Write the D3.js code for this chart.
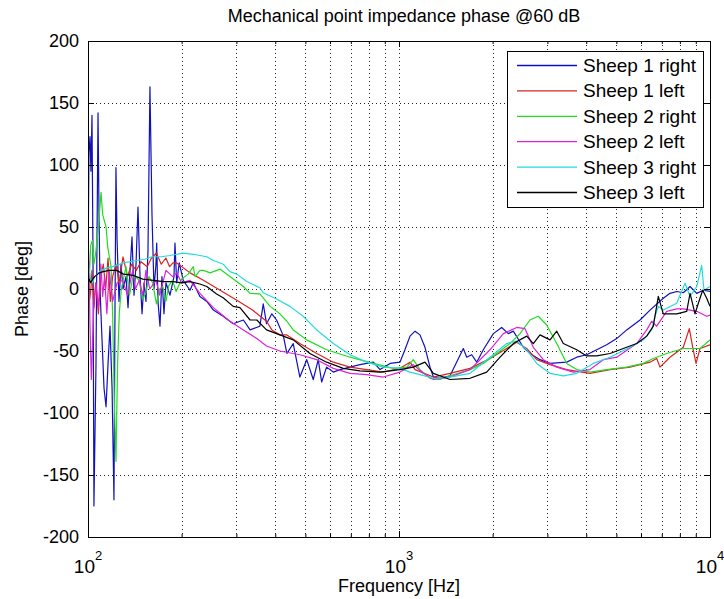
<!DOCTYPE html>
<html><head><meta charset="utf-8">
<script src="https://cdn.jsdelivr.net/npm/d3@7"></script>
<style>
body{margin:0;background:#fff;}
text{font-family:"Liberation Sans",Arial,Helvetica,sans-serif;fill:#000;}
</style></head>
<body><svg id="c" width="724" height="599"></svg>
<script>
const seriesNames = ["Sheep 1 right","Sheep 1 left","Sheep 2 right","Sheep 2 left","Sheep 3 right","Sheep 3 left"];
const seriesColors = ["#1010c0","#d82424","#22dc22","#dc22dc","#22dcdc","#000000"];
const yTicks = [-200,-150,-100,-50,0,50,100,150,200];
const xMajor = [100,1000,10000];
const xMinor = [200,300,400,500,600,700,800,900,2000,3000,4000,5000,6000,7000,8000,9000];

// [frequency Hz, phase deg]
const sheep1Right = [[100,10],[100.7,110],[101.5,123],[102.2,95],[103,140],[103.8,20],[104.5,-175],[106.1,-60],[107.7,142],[108.5,60],[109.3,0],[110.9,-40],[112.6,-80],[114.3,-95],[116,-60],[117.7,-30],[119.5,-80],[121.2,-170],[122.1,-20],[123,98],[124,40],[125.8,-10],[127.7,20],[129.6,0],[132.5,10],[134.5,-15],[136.5,15],[138.5,42],[140.6,-5],[142.7,20],[144.8,66],[147,10],[149.2,-20],[151.4,5],[153.6,-10],[155.9,30],[158.2,163],[160.6,60],[163,0],[165.4,20],[166.3,37],[167.9,-10],[170.4,-30],[172.9,10],[175.5,-20],[178.1,5],[183.5,-5],[189,10],[190.4,37],[192.8,5],[196.5,21],[202.4,7],[212.8,-1],[218,5],[229,-6],[241,-10],[253,-17],[272,-22],[293,-28],[316,-25],[332,-33],[357,-30],[366,-12],[375,-28],[390,-20],[404,-25],[425,-38],[436,-52],[457,-44],[480,-71],[505,-57],[530,-73],[550,-57],[564,-75],[585,-63],[615,-67],[646,-65],[749,-61],[827,-59],[869,-65],[936,-60],[1007,-59],[1045,-49],[1085,-38],[1126,-34],[1168,-37],[1212,-47],[1258,-63],[1290,-71],[1355,-72],[1459,-70],[1610,-48],[1651,-55],[1713,-53],[1778,-59],[1867,-49],[2011,-36],[2139,-31],[2246,-36],[2331,-34],[2510,-47],[2638,-52],[2840,-57],[3059,-60],[3462,-59],[3728,-55],[4013,-53],[4323,-49],[4654,-45],[5012,-40],[5398,-33],[5957,-25],[6414,-17],[7076,-7.5],[7437,-3.5],[7815,-2],[8206,-3],[8626,2],[9063,-3.5],[9516,-1],[10000,-2]];

const sheep1Left = [[100,5],[101,-10],[102.2,0],[103,15],[104.5,-15],[106,5],[108,-20],[110,10],[112,20],[114,0],[116,25],[118,-10],[120,10],[123,20],[126,5],[129.6,26],[134,10],[138,20],[143,15],[148,22],[155,18],[160,25],[166,29],[172,20],[178,25],[183,18],[187.6,21],[193,21],[213,13],[235,7],[266,-1],[301,-9],[338,-17],[375,-26],[390,-33],[414,-37],[436,-37],[480,-44],[544,-52],[615,-59],[696,-63],[787,-65],[890,-67],[1007,-64],[1085,-59],[1126,-65],[1290,-71],[1459,-68],[1692,-64],[1962,-56],[2220,-48],[2390,-43],[2574,-48],[2772,-57],[3059,-61],[3462,-65],[4113,-68],[4770,-65],[5532,-63],[6414,-59],[6739,-56],[6905,-63],[7437,-55],[8206,-47],[8580,-32],[8800,-47],[9017,-60],[9287,-48],[10000,-45]];

const sheep2Right = [[100,30],[101,10],[102,35],[103.3,39],[104.5,20],[106,30],[108,50],[110.1,78],[111.5,60],[114.3,50],[115.7,34],[118.6,18],[120,-20],[121.5,-90],[123,-139],[124.5,-60],[126.1,-19],[128,0],[132.5,18],[136,-5],[140,12],[146,7],[150,-8],[153.6,-3],[157,10],[161.4,5],[166,-12],[170,0],[173.9,2],[178,-10],[182,3],[187,7],[192,-2],[200,8],[210,12],[218,18],[221,10],[229,15],[235,15],[247,13],[266,16],[286,10],[316,2],[332,-3.5],[357,-4],[385,-14],[414,-20],[436,-26],[457,-33],[505,-41],[585,-49],[696,-55],[827,-60],[959,-64],[1059,-63],[1112,-57],[1168,-65],[1258,-72],[1355,-73],[1459,-70],[1692,-65],[1867,-60],[2062,-52],[2275,-44],[2449,-36],[2638,-25],[2805,-22],[2985,-29],[3215,-44],[3462,-60],[3728,-65],[4113,-67],[4654,-65],[5398,-63],[6104,-60],[6572,-56],[7257,-52],[8206,-48],[9287,-48],[10000,-41]];

const sheep2Left = [[100,42],[100.7,20],[101.5,-30],[102.5,-73],[103.5,-40],[104.5,-10],[106,5],[108,-15],[110,20],[111.5,-6],[113,10],[115,-20],[117,15],[120,-10],[124,5],[129.3,7],[134,-5],[139.2,15],[142,0],[146.2,7],[150,-5],[153.6,15],[158,0],[165.4,7],[170,-5],[178.1,15],[187.2,10],[192.8,13],[200,5],[212.8,7],[229,-3.5],[253,-15],[286,-26],[316,-33],[349,-40],[375,-46],[414,-50],[480,-53],[544,-57],[615,-64],[696,-68],[787,-69],[890,-71],[1007,-67],[1112,-61],[1197,-68],[1290,-73],[1459,-71],[1692,-65],[1962,-49],[2165,-36],[2390,-31],[2542,-32],[2703,-47],[2911,-57],[3215,-63],[3635,-67],[4113,-65],[4539,-57],[5012,-55],[5813,-44],[6260,-33],[6494,-26],[6739,-30],[7257,-18],[7815,-16],[8206,-16],[9063,-18],[9759,-22],[10000,-21]];

const sheep3Right = [[100,25],[101,15],[102,8],[103.3,5],[105,10],[107,12],[110,15],[115,17],[120,18],[130,21],[142.7,23],[152,24],[161,26],[172,26],[183.5,27],[202,29],[218,28],[229,27],[241,26],[253,23],[266,21],[272,20],[286,14],[301,12],[324,6],[357,1],[366,-3],[404,-8],[446,-14],[492,-22],[544,-33],[615,-44],[696,-53],[787,-59],[890,-63],[1007,-64],[1085,-67],[1168,-69],[1290,-72],[1459,-71],[1692,-68],[1962,-55],[2220,-44],[2390,-42],[2574,-49],[2772,-60],[3059,-68],[3376,-70],[3728,-68],[4216,-60],[4770,-55],[5532,-47],[6104,-41],[6494,-33],[6655,-22],[6820,-14],[7076,-17],[7815,-11.5],[8311,4.6],[8626,-6],[9063,2],[9403,19],[9565,-1],[10000,2]];

const sheep3Left = [[100,-15],[100.3,5],[101,8],[102,5],[103,7],[105,10],[108.7,13],[112,14],[117,15],[123.6,15],[130,12],[139.8,11],[150,8],[162.2,7],[175,6],[188,6],[200,5],[212.8,6],[229,4],[241,2],[259,-4],[272,-7],[293,-14],[308,-15],[332,-25],[349,-25],[375,-33],[414,-37],[457,-41],[517,-52],[585,-59],[662,-64],[749,-66],[869,-67],[1007,-65],[1112,-63],[1212,-59],[1290,-68],[1459,-73],[1692,-72],[1914,-67],[2113,-55],[2331,-44],[2574,-38],[2703,-44],[2840,-37],[3059,-41],[3215,-34],[3376,-44],[3728,-49],[4013,-54],[4323,-54],[4770,-52],[5263,-48],[5813,-44],[6260,-38],[6572,-30],[6820,-6],[7076,-20],[7815,-20],[8417,-18],[8626,-3.5],[8951,-20],[9172,-11.5],[9473,-1],[9759,-7.5],[10000,-14]];

const allSeries = [sheep1Right,sheep1Left,sheep2Right,sheep2Left,sheep3Right,sheep3Left];

const L=88,R=710,T=41,B=537;
const svg=d3.select("#c");
const x=d3.scaleLog().domain([100,10000]).range([L,R]);
const y=d3.scaleLinear().domain([-200,200]).range([B,T]);

// grid
const grid=svg.append("g").attr("stroke","#222").attr("stroke-width",1).attr("stroke-dasharray","1,3").attr("shape-rendering","crispEdges");
grid.selectAll("line.v").data(xMinor.concat([1000])).join("line")
  .attr("x1",d=>Math.round(x(d))+0.5).attr("x2",d=>Math.round(x(d))+0.5).attr("y1",T).attr("y2",B);
grid.selectAll("line.h").data(yTicks.filter(d=>d>-200&&d<200)).join("line")
  .attr("x1",L).attr("x2",R).attr("y1",d=>Math.round(y(d))+0.5).attr("y2",d=>Math.round(y(d))+0.5);

// lines
svg.append("clipPath").attr("id","pc").append("rect").attr("x",L).attr("y",T).attr("width",R-L).attr("height",B-T);
const line=d3.line().x(d=>x(d[0])).y(d=>y(d[1]));
svg.append("g").attr("clip-path","url(#pc)").selectAll("path").data(allSeries).join("path")
  .attr("d",line).attr("fill","none").attr("stroke",(d,i)=>seriesColors[i]).attr("stroke-width",1.2).attr("stroke-linejoin","round");

// axes
const yl=svg.append("g").attr("transform",`translate(${L},0)`).call(d3.axisLeft(y).tickValues(yTicks).tickSize(-6).tickPadding(9).tickFormat(d=>d));
svg.append("g").attr("transform",`translate(${R},0)`).call(d3.axisRight(y).tickValues(yTicks).tickSize(-6).tickFormat(""));
svg.append("g").attr("transform",`translate(0,${B})`).call(d3.axisBottom(x).tickValues(xMajor).tickSize(-6).tickFormat(""));
svg.append("g").attr("transform",`translate(0,${B})`).call(d3.axisBottom(x).tickValues(xMinor).tickSize(-3).tickFormat(""));
svg.append("g").attr("transform",`translate(0,${T})`).call(d3.axisTop(x).tickValues(xMajor).tickSize(-6).tickFormat(""));
svg.append("g").attr("transform",`translate(0,${T})`).call(d3.axisTop(x).tickValues(xMinor).tickSize(-3).tickFormat(""));
svg.selectAll(".domain").remove();
svg.selectAll(".tick line").attr("stroke","#000");
yl.selectAll("text").attr("font-size",18).style("font-family","'Liberation Sans',Arial,sans-serif");
svg.append("rect").attr("x",L+0.5).attr("y",T+0.5).attr("width",R-L).attr("height",B-T).attr("fill","none").attr("stroke","#000").attr("stroke-width",1);

// x tick labels 10^n
const xl=svg.append("g").selectAll("text").data(xMajor).join("text")
  .attr("x",d=>x(d)).attr("y",573).attr("text-anchor","middle").attr("font-size",19);
xl.append("tspan").text("10");
xl.append("tspan").attr("dy",-13).attr("font-size",13).text(d=>Math.round(Math.log10(d)));

// titles
svg.append("text").attr("x",(L+R)/2+5).attr("y",22).attr("text-anchor","middle").attr("font-size",18).text("Mechanical point impedance phase @60 dB");
svg.append("text").attr("x",(L+R)/2).attr("y",592).attr("text-anchor","middle").attr("font-size",18).text("Frequency [Hz]");
svg.append("text").attr("transform",`translate(28,${(T+B)/2}) rotate(-90)`).attr("text-anchor","middle").attr("font-size",18).text("Phase [deg]");

// legend
const lg=svg.append("g");
lg.append("rect").attr("x",507.5).attr("y",51.5).attr("width",196).attr("height",156).attr("fill","#fff").attr("stroke","#000");
const rows=lg.selectAll("g.r").data(seriesNames).join("g").attr("transform",(d,i)=>`translate(0,${65+i*25.4})`);
rows.append("line").attr("x1",517).attr("x2",577).attr("y1",0.5).attr("y2",0.5).attr("stroke",(d,i)=>seriesColors[i]).attr("stroke-width",1.3);
rows.append("text").attr("x",583).attr("y",7).attr("font-size",19).text(d=>d);
</script></body></html>
